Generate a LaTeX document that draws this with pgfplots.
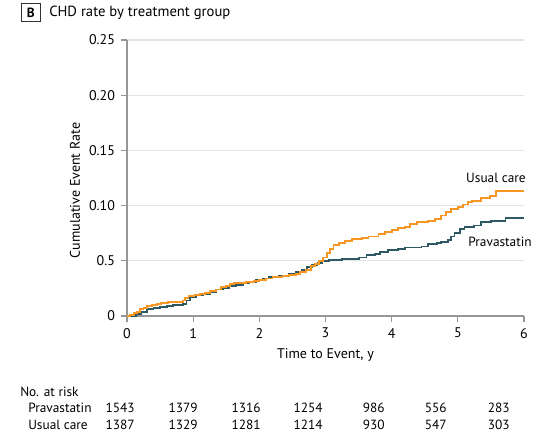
\documentclass[border=0pt]{standalone}
\usepackage{fontspec}
\setmainfont{PT Sans}
\usepackage{pgfplots}
\pgfplotsset{compat=1.18}
\definecolor{usual}{RGB}{247,150,35}
\definecolor{prava}{RGB}{46,88,100}
\definecolor{axgray}{RGB}{150,150,150}
\definecolor{gridgray}{RGB}{228,228,228}

% Kaplan-Meier style cumulative event rates (time in years, rate)
\pgfplotstableread{
t r
0 0
0.05 0.001
0.1 0.003
0.15 0.004
0.2 0.006
0.25 0.007
0.3 0.009
0.38 0.010
0.45 0.011
0.52 0.012
0.62 0.0125
0.84 0.014
0.88 0.016
0.93 0.018
1.02 0.019
1.1 0.020
1.18 0.021
1.25 0.023
1.35 0.024
1.42 0.026
1.5 0.027
1.56 0.029
1.62 0.030
1.8 0.031
1.92 0.032
2.0 0.033
2.1 0.034
2.2 0.035
2.35 0.036
2.45 0.037
2.55 0.038
2.62 0.040
2.7 0.042
2.78 0.045
2.84 0.047
2.9 0.050
2.96 0.053
3.02 0.057
3.07 0.061
3.12 0.064
3.2 0.066
3.3 0.068
3.4 0.070
3.55 0.071
3.65 0.072
3.8 0.074
3.9 0.076
4.0 0.078
4.1 0.080
4.2 0.081
4.28 0.083
4.38 0.085
4.55 0.086
4.65 0.088
4.75 0.091
4.82 0.094
4.9 0.097
5.0 0.099
5.08 0.101
5.15 0.103
5.22 0.104
5.35 0.107
5.48 0.109
5.58 0.113
6.0 0.113
}\usualcare

\pgfplotstableread{
t r
0 0
0.12 0.0
0.14 0.002
0.22 0.004
0.3 0.006
0.4 0.007
0.5 0.008
0.6 0.009
0.7 0.010
0.85 0.011
0.9 0.014
0.95 0.017
1.05 0.019
1.15 0.020
1.25 0.022
1.35 0.024
1.45 0.025
1.55 0.027
1.65 0.028
1.75 0.030
1.85 0.031
1.95 0.033
2.05 0.034
2.15 0.035
2.3 0.036
2.45 0.038
2.55 0.040
2.65 0.042
2.72 0.044
2.8 0.046
2.88 0.048
2.95 0.050
3.05 0.051
3.25 0.052
3.5 0.053
3.62 0.055
3.75 0.056
3.82 0.058
3.95 0.060
4.1 0.061
4.2 0.062
4.45 0.063
4.55 0.065
4.68 0.066
4.75 0.067
4.85 0.069
4.9 0.072
4.95 0.075
5.03 0.079
5.1 0.081
5.25 0.082
5.35 0.085
5.5 0.086
5.72 0.089
6.0 0.089
}\pravastatin

\begin{document}
\begin{tikzpicture}[x=0.75pt,y=0.75pt,font=\fontsize{10}{12}\selectfont]
\useasboundingbox (-127,-120) rectangle (423,316);

% panel header
\draw[black!80, line width=0.6pt] (-106,312.5) rectangle (-86.5,294.5);
\node[font=\fontsize{10}{12}\selectfont\bfseries] at (-96.2,303.5) {B};
\node[anchor=west, inner sep=0, font=\fontsize{11}{13}\selectfont] at (-78,303.5) {CHD rate by treatment group};

\begin{axis}[
  scale only axis,
  width=297.75pt, height=207pt,
  xmin=0, xmax=6, ymin=0, ymax=0.25,
  axis lines*=left,
  axis line style={axgray, line width=0.8pt},
  xtick={0,1,2,3,4,5,6},
  ytick={0,0.05,0.10,0.15,0.20,0.25},
  yticklabels={0,0.5,0.10,0.15,0.20,0.25},
  /pgf/number format/assume math mode=true,
  ticklabel style={font=\fontsize{10.5}{12}\selectfont},
  ymajorgrids,
  grid style={gridgray, line width=0.8pt},
  tick align=outside,
  major tick length=4.5pt,
  tick style={axgray, line width=0.8pt},
  xticklabel style={yshift=-1pt},
  yticklabel style={xshift=-1pt},
  xlabel={Time to Event, y},
  ylabel={Cumulative Event Rate},
  label style={font=\fontsize{10.5}{12}\selectfont},
  xlabel style={at={(axis description cs:0.5,0)}, anchor=center, yshift=-29pt},
  ylabel style={at={([xshift=-39pt]axis description cs:0,0.455)}, anchor=center},
  clip=false,
]
\addplot[const plot, prava, line width=1.4pt] table[x=t, y=r] {\pravastatin};
\addplot[const plot, usual, line width=1.4pt] table[x=t, y=r] {\usualcare};
\end{axis}

% curve labels
\node[anchor=east, inner sep=0] at (399,138) {Usual care};
\node[anchor=east, inner sep=0] at (405,74) {Pravastatin};

% number at risk
\node[anchor=west, inner sep=0] at (-107,-76) {No. at risk};
\node[anchor=west, inner sep=0] at (-99,-92) {Pravastatin};
\node[anchor=west, inner sep=0] at (-99,-109) {Usual care};
\foreach \xx/\a/\b in {8/1543/1387, 71/1379/1329, 134/1316/1281, 196/1254/1214, 258/986/930, 320/556/547, 383/283/303} {
  \node[anchor=east, inner sep=0] at (\xx,-92) {\a};
  \node[anchor=east, inner sep=0] at (\xx,-109) {\b};
}
\end{tikzpicture}
\end{document}
